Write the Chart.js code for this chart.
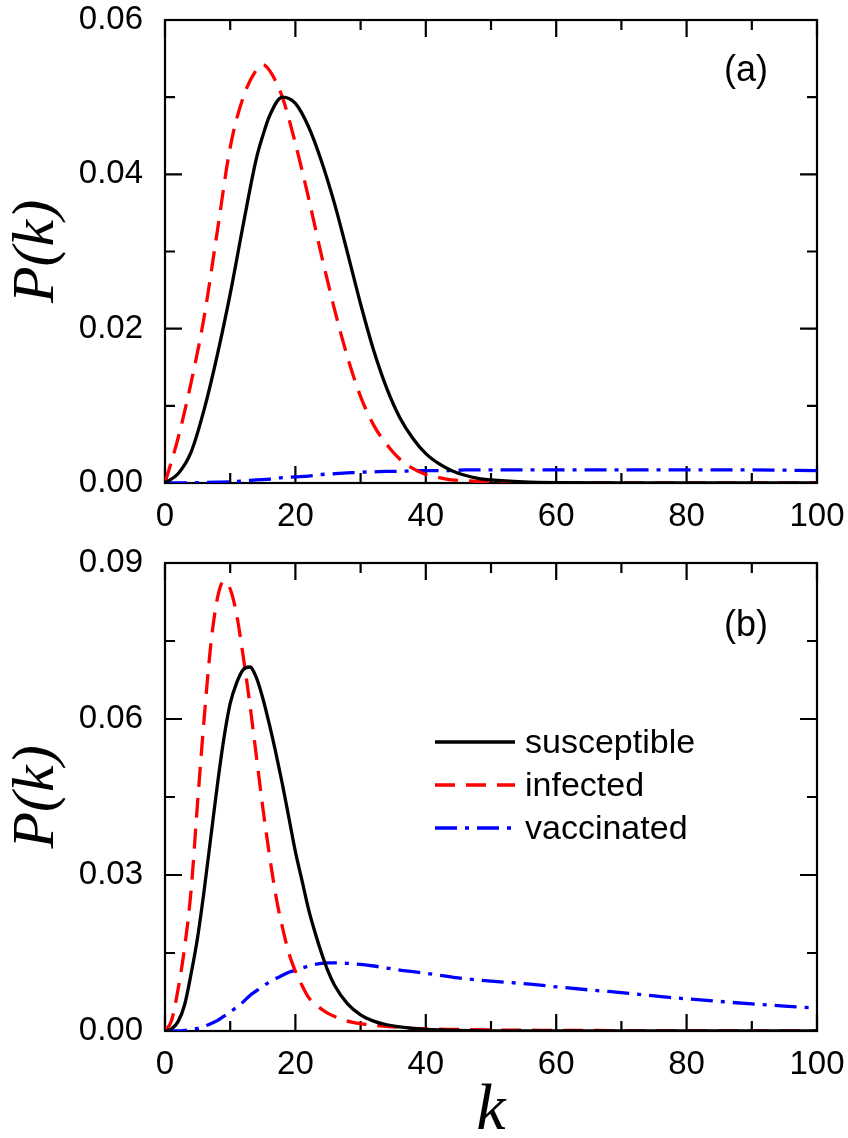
<!DOCTYPE html>
<html>
<head>
<meta charset="utf-8">
<script src="https://cdn.jsdelivr.net/npm/chart.js@4.4.1/dist/chart.umd.min.js"></script>
<style>
  body { margin: 0; background: #fff; }
  #wrap { position: relative; width: 848px; height: 1138px; }
  canvas { position: absolute; left: 0; }
</style>
</head>
<body>
<div id="wrap">
  <canvas id="panel_a" width="848" height="545" style="top:0"></canvas>
  <canvas id="panel_b" width="848" height="595" style="top:543px"></canvas>
</div>
<script>
// panel (a)
const kA = [0, 2, 4, 6, 8, 10, 12, 14, 15, 16, 18, 20, 22, 24, 26, 28, 30, 32, 34, 36, 38, 40,
  42, 44, 46, 48, 50, 55, 60, 70, 80, 90, 100];
const susceptibleA = [0, 0.0012, 0.0040, 0.0095, 0.0165, 0.0245, 0.0335, 0.0420, 0.0450, 0.0475,
  0.0500, 0.0492, 0.0462, 0.0417, 0.0362, 0.0298, 0.0232, 0.0172, 0.0123, 0.0085, 0.0058, 0.0038,
  0.0025, 0.0016, 0.0010, 0.0006, 0.0004, 0.00015, 0.00005, 0, 0, 0, 0];
const infectedA = [0, 0.0058, 0.0130, 0.0215, 0.0325, 0.0435, 0.0500, 0.0535, 0.0542, 0.0535,
  0.0500, 0.0440, 0.0370, 0.0295, 0.0225, 0.0163, 0.0112, 0.0075, 0.0050, 0.0031, 0.0019, 0.0011,
  0.0007, 0.0004, 0.0003, 0.0002, 0.0001, 0.00005, 0, 0, 0, 0, 0];
const vaccinatedA = [0, 0.00001, 0.00003, 0.00006, 0.0001, 0.00015, 0.00025, 0.0004, 0.00045, 0.0005,
  0.0007, 0.0008, 0.0009, 0.0011, 0.0012, 0.0013, 0.0014, 0.00145, 0.0015, 0.0015, 0.0016, 0.0016,
  0.0016, 0.0016, 0.0017, 0.0017, 0.0017, 0.0017, 0.0017, 0.0017, 0.0017, 0.0017, 0.0016];

// panel (b)
const kB = [0, 1, 2, 3, 4, 5, 6, 7, 8, 9, 10, 11, 12, 13, 14, 15, 16, 17, 18, 19, 20, 21, 22, 23,
  24, 25, 26, 28, 30, 32, 34, 36, 38, 40, 45, 50, 56, 60, 66, 70, 77, 84, 90, 95, 100];
const susceptibleB = [0, 0.0004, 0.0018, 0.005, 0.011, 0.018, 0.027, 0.037, 0.047, 0.056, 0.063,
  0.067, 0.0695, 0.070, 0.068, 0.064, 0.059, 0.0535, 0.0475, 0.041, 0.0345, 0.029, 0.0235, 0.019,
  0.015, 0.0115, 0.0088, 0.0052, 0.0031, 0.0019, 0.0012, 0.0008, 0.0005, 0.0003,
  0.0001, 0.00003, 0, 0, 0, 0, 0, 0, 0, 0, 0];
const infectedB = [0, 0.002, 0.008, 0.016, 0.027, 0.044, 0.060, 0.074, 0.083, 0.0865, 0.085,
  0.080, 0.072, 0.063, 0.053, 0.043, 0.034, 0.026, 0.020, 0.015, 0.0115, 0.0088, 0.0065, 0.0052,
  0.0042, 0.0034, 0.0028, 0.0019, 0.0014, 0.0011, 0.0009, 0.0007, 0.0005, 0.0004,
  0.0003, 0.0002, 0.00015, 0.0001, 0.0001, 0.00008, 0.00006, 0.00005, 0.00004, 0.00003, 0.00002];
const vaccinatedB = [0, 0, 0, 0.0001, 0.0003, 0.0005, 0.0009, 0.0014, 0.0020, 0.0028, 0.0036,
  0.0046, 0.0056, 0.0068, 0.0077, 0.0086, 0.0094, 0.0101, 0.0107, 0.0113, 0.0117, 0.0121, 0.0125,
  0.0128, 0.0130, 0.0131, 0.0131, 0.0130, 0.0128, 0.0125, 0.0121, 0.0117, 0.0114, 0.0111,
  0.0102, 0.0096, 0.0090, 0.0085, 0.0078, 0.0074, 0.0065, 0.0058, 0.0052, 0.0048, 0.0044];

const seriesNames = ['susceptible', 'infected', 'vaccinated'];
const xTicks = [0, 20, 40, 60, 80, 100];
const yTicksA = [0, 0.02, 0.04, 0.06];
const yTicksB = [0, 0.03, 0.06, 0.09];

const SANS = '"Liberation Sans", Arial, sans-serif';
const SERIF = '"Liberation Serif", "Times New Roman", serif';

const styles = [
  { borderColor: '#000000', borderDash: [] },
  { borderColor: '#ff0000', borderDash: [20, 11] },
  { borderColor: '#0000ff', borderDash: [22, 8, 4, 8] },
];

// box around the plot with inward ticks on all four sides
const frameTicks = {
  id: 'frameTicks',
  beforeDatasetsDraw(chart) {
    const { ctx, chartArea: a, scales: { x, y } } = chart;
    const marks = (scale) => {
      const vals = scale.ticks.map(t => t.value);
      const out = [];
      vals.forEach((v, i) => {
        out.push([v, 17]);
        if (i < vals.length - 1) out.push([(v + vals[i + 1]) / 2, 10]);
      });
      return out;
    };
    ctx.save();
    ctx.strokeStyle = '#000';
    ctx.lineWidth = 2.2;
    ctx.strokeRect(a.left, a.top, a.right - a.left, a.bottom - a.top);
    ctx.beginPath();
    marks(x).forEach(([v, len]) => {
      const px = x.getPixelForValue(v);
      ctx.moveTo(px, a.bottom); ctx.lineTo(px, a.bottom - len);
      ctx.moveTo(px, a.top); ctx.lineTo(px, a.top + len);
    });
    marks(y).forEach(([v, len]) => {
      const py = y.getPixelForValue(v);
      ctx.moveTo(a.left, py); ctx.lineTo(a.left + len, py);
      ctx.moveTo(a.right, py); ctx.lineTo(a.right - len, py);
    });
    ctx.stroke();
    ctx.restore();
  }
};

// panel tag and the in-plot legend
const panelText = {
  id: 'panelText',
  afterDatasetsDraw(chart, args, opts) {
    const { ctx, chartArea: a } = chart;
    ctx.save();
    ctx.fillStyle = '#000';
    ctx.font = '36px ' + SANS;
    ctx.textAlign = 'right';
    ctx.textBaseline = 'middle';
    ctx.fillText(opts.tag, a.right - 49, a.top + opts.tagY);
    if (opts.legend) {
      ctx.font = '34px ' + SANS;
      ctx.textAlign = 'left';
      chart.data.datasets.forEach((ds, i) => {
        const yy = a.top + 179 + i * 43;
        ctx.strokeStyle = ds.borderColor;
        ctx.lineWidth = 3.3;
        ctx.setLineDash(ds.borderDash);
        ctx.beginPath();
        ctx.moveTo(a.left + 270, yy);
        ctx.lineTo(a.left + 350, yy);
        ctx.stroke();
        ctx.setLineDash([]);
        ctx.fillText(ds.label, a.left + 360, yy + 2);
      });
    }
    ctx.restore();
  }
};

function makePanel(id, k, cols, yTicks, o) {
  const datasets = cols.map((vals, i) => ({
    label: seriesNames[i],
    data: k.map((kk, j) => ({ x: kk, y: vals[j] })),
    borderColor: styles[i].borderColor,
    borderDash: styles[i].borderDash,
    borderWidth: 3.3,
    pointRadius: 0,
    fill: false,
    cubicInterpolationMode: 'monotone',
  }));
  return new Chart(id, {
    type: 'line',
    data: { datasets },
    plugins: [frameTicks, panelText],
    options: {
      responsive: false,
      animation: false,
      devicePixelRatio: 1,
      layout: { padding: { top: 20, right: 31, left: 0, bottom: 0 } },
      plugins: {
        legend: { display: false },
        tooltip: { enabled: false },
        panelText: { tag: o.tag, tagY: o.tagY, legend: o.legend },
      },
      scales: {
        x: {
          type: 'linear',
          min: 0,
          max: 100,
          afterBuildTicks: s => { s.ticks = xTicks.map(v => ({ value: v })); },
          afterFit: s => { s.height = o.xHeight; s.paddingLeft = 0; s.paddingRight = 0; },
          grid: { display: false, drawTicks: false },
          border: { display: false },
          ticks: { color: '#000', padding: 14, maxRotation: 0, font: { family: SANS, size: 33 } },
          title: {
            display: o.xTitle,
            text: 'k',
            color: '#000',
            padding: 0,
            font: { family: SERIF, style: 'italic', size: 66, lineHeight: 0.8 },
          },
        },
        y: {
          type: 'linear',
          min: 0,
          max: yTicks[yTicks.length - 1],
          afterBuildTicks: s => { s.ticks = yTicks.map(v => ({ value: v })); },
          afterFit: s => { s.width = 165; s.paddingTop = 0; s.paddingBottom = 0; },
          grid: { display: false, drawTicks: false },
          border: { display: false },
          ticks: {
            color: '#000', padding: 22,
            font: { family: SANS, size: 33 },
            callback: v => Number(v).toFixed(2),
          },
          title: {
            display: true,
            text: 'P(k)',
            color: '#000',
            padding: { top: 7, bottom: 0 },
            font: { family: SERIF, style: 'italic', size: 60, lineHeight: 1 },
          },
        },
      },
    },
  });
}

makePanel('panel_a', kA, [susceptibleA, infectedA, vaccinatedA], yTicksA,
  { xHeight: 62, tag: '(a)', tagY: 51, legend: false, xTitle: false });
makePanel('panel_b', kB, [susceptibleB, infectedB, vaccinatedB], yTicksB,
  { xHeight: 107, tag: '(b)', tagY: 63, legend: true, xTitle: true });
</script>
</body>
</html>
